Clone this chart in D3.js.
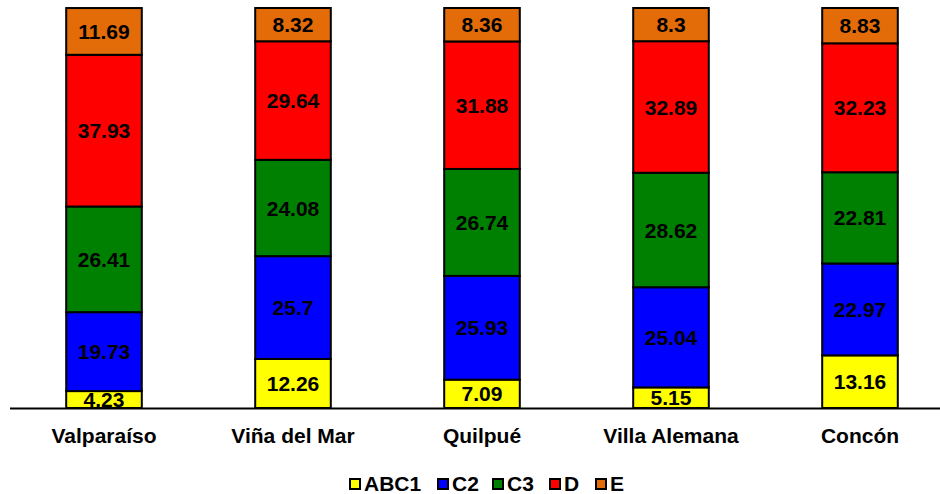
<!DOCTYPE html>
<html><head><meta charset="utf-8">
<script src="https://cdn.jsdelivr.net/npm/d3@7"></script>
<style>body{margin:0;background:#fff}svg{display:block}text{font-family:"Liberation Sans",Arial,sans-serif;font-weight:bold}</style>
</head><body><svg id="c" width="940" height="494"></svg>
<script>
const categories = ["Valparaíso","Viña del Mar","Quilpué","Villa Alemana","Concón"];
const seriesNames = ["ABC1","C2","C3","D","E"];
const ABC1 = [4.23,12.26,7.09,5.15,13.16];
const C2 = [19.73,25.7,25.93,25.04,22.97];
const C3 = [26.41,24.08,26.74,28.62,22.81];
const D = [37.93,29.64,31.88,32.89,32.23];
const E = [11.69,8.32,8.36,8.3,8.83];
const colors = ["#ffff00","#0000ff","#008000","#ff0000","#e36c09"];
const values = [ABC1,C2,C3,D,E];

const svg = d3.select("#c");
const x = d3.scaleBand().domain(categories).range([9.5,954.5]).paddingInner(0.6).paddingOuter(0.3);
const y = d3.scaleLinear().domain([0,100]).range([408,8]);

const rows = categories.map((c,i)=>{const o={cat:c}; seriesNames.forEach((s,j)=>o[s]=values[j][i]); return o;});
const stack = d3.stack().keys(seriesNames)(rows);

stack.forEach((layer,j)=>{
  const g = svg.append("g");
  g.selectAll("rect").data(layer).join("rect")
    .attr("x",d=>x(d.data.cat)).attr("width",x.bandwidth())
    .attr("y",d=>y(d[1])).attr("height",d=>y(d[0])-y(d[1]))
    .attr("fill",colors[j]).attr("stroke","#000").attr("stroke-width",2);
});
stack.forEach((layer,j)=>{
  svg.append("g").selectAll("text").data(layer).join("text")
    .attr("x",d=>x(d.data.cat)+x.bandwidth()/2)
    .attr("y",d=>(y(d[0])+y(d[1]))/2)
    .attr("dy","0.36em").attr("text-anchor","middle")
    .attr("font-size",21).attr("fill","#000")
    .text(d=>values[j][categories.indexOf(d.data.cat)]);
});

svg.append("line").attr("x1",10).attr("x2",940).attr("y1",408.5).attr("y2",408.5).attr("stroke","#000").attr("stroke-width",2);

svg.append("g").selectAll("text").data(categories).join("text")
  .attr("x",d=>x(d)+x.bandwidth()/2).attr("y",443)
  .attr("text-anchor","middle").attr("font-size",21).text(d=>d);

const legX = [349,437,492,549,595];
const leg = svg.append("g");
seriesNames.forEach((s,j)=>{
  leg.append("rect").attr("x",legX[j]+1).attr("y",479).attr("width",10).attr("height",10)
    .attr("fill",colors[j]).attr("stroke","#000").attr("stroke-width",2);
  leg.append("text").attr("x",legX[j]+15).attr("y",491).attr("font-size",21).text(s);
});
</script></body></html>
